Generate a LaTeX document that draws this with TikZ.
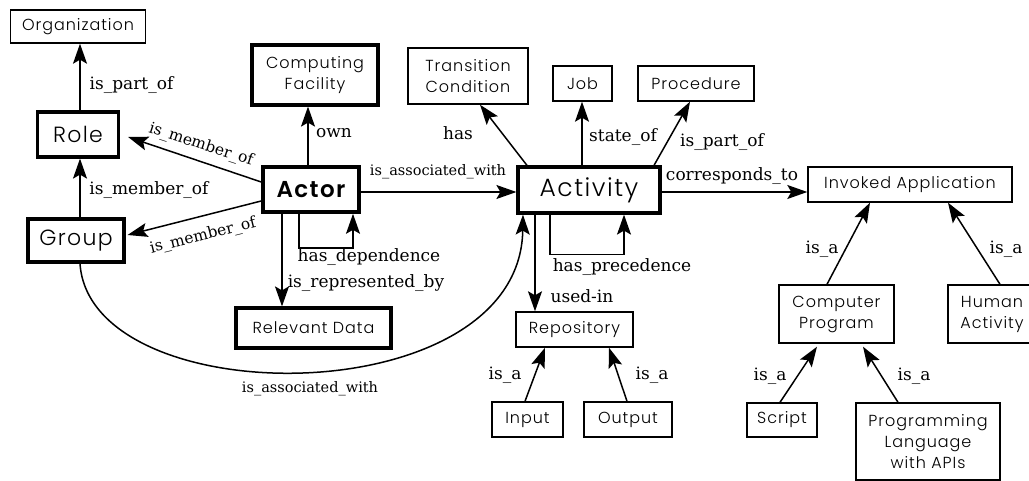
\documentclass[tikz,border=0pt]{standalone}
\usepackage{fontspec}
\setmainfont{DejaVu Serif}
\newfontfamily\boxfont[LetterSpace=6, UprightFont={* Light}, BoldFont={* SemiBold}]{Poppins}
\usetikzlibrary{arrows.meta,calc}

\tikzset{
  ent/.style={draw, line width=1.4pt, inner sep=0pt, align=center,
    font=\boxfont\fontsize{16}{21}\selectfont},
  kent/.style={ent, line width=3.2pt},
  arr/.style={line width=1.5pt, -{Stealth[length=20pt,width=14pt,inset=4pt]}},
  lab/.style={font=\fontsize{17}{20}\selectfont, inner sep=0pt},
  mlab/.style={font=\fontsize{15.5}{18}\selectfont, inner sep=0pt},
  slab/.style={font=\fontsize{14.5}{17}\selectfont, inner sep=0pt},
}

\begin{document}
\begin{tikzpicture}[x=1pt,y=-1pt]
\useasboundingbox (0,0) rectangle (1029,481);

% entities
\node[ent, minimum width=135, minimum height=33] (org) at (78,26.5) {Organization};
\node[kent, font=\boxfont\fontsize{22}{26}\selectfont, minimum width=81, minimum height=45] (role) at (78,134.5) {Role};
\node[kent, font=\boxfont\fontsize{22}{26}\selectfont, minimum width=96, minimum height=43] (group) at (76,240.5) {Group};
\node[kent, minimum width=126, minimum height=60] (cf) at (315,75) {Computing\\Facility};
\node[kent, line width=3.6pt, font=\boxfont\bfseries\fontsize{23}{26}\selectfont, minimum width=96, minimum height=45] (actor) at (311,189.5) {Actor};
\node[ent, minimum width=120, minimum height=56] (tc) at (468,76) {Transition\\Condition};
\node[ent, minimum width=59, minimum height=35] (job) at (582.5,83.5) {Job};
\node[ent, minimum width=116, minimum height=35] (proc) at (696,83.5) {Procedure};
\node[kent, font=\boxfont\fontsize{25}{28}\selectfont, minimum width=142, minimum height=46] (act) at (589,190) {Activity};
\node[ent, minimum width=204, minimum height=35] (inv) at (910,184.5) {Invoked Application};
\node[kent, minimum width=155, minimum height=40] (rd) at (313.5,328) {Relevant Data};
\node[ent, minimum width=117, minimum height=35] (rep) at (574.5,329.5) {Repository};
\node[ent, minimum width=71, minimum height=35] (inp) at (527.5,419.5) {Input};
\node[ent, minimum width=88, minimum height=35] (outp) at (628,419.5) {Output};
\node[ent, minimum width=115, minimum height=58] (cp) at (836.5,314) {Computer\\Program};
\node[ent, minimum width=88, minimum height=58] (ha) at (992,314) {Human\\Activity};
\node[ent, minimum width=70, minimum height=34] (scr) at (782,420) {Script};
\node[ent, minimum width=144, minimum height=77] (pl) at (928,441.5) {Programming\\Language\\with APIs};

% relations
\draw[arr] ($(role.north)+(2,0)$) -- ($(org.south)+(2,0)$);
\draw[arr] ($(group.north)+(4,0)$) -- ($(role.south)+(2,0)$);
\draw[arr] ($(actor.west)+(0,-7.5)$) -- ($(role.east)+(8,2.5)$);
\draw[arr] ($(actor.west)+(0,11.5)$) -- ($(group.east)+(2,-5.5)$);
\draw[arr] ($(actor.north)+(-3,0)$) -- ($(cf.south)+(-7,0)$);
\draw[arr] ($(actor.east)+(0,2.5)$) -- ($(act.west)+(0,2)$);
\draw[arr] ($(actor.south)+(-12,0)$) -- ++(0,34) -| ($(actor.south)+(42,0)$);
\draw[arr] ($(actor.south)+(-29,0)$) -- ($(rd.north)+(-31.5,0)$);
\draw[arr] ($(group.south)+(4,0)$) .. controls (90,415) and (520,415) .. ($(act.south)+(-66,0)$);

\draw[arr] ($(act.north)+(-62,0)$) -- ($(tc.south)+(12,0)$);
\draw[arr] ($(act.north)+(-7,0)$) -- ($(job.south)+(-0.5,0)$);
\draw[arr] ($(act.north)+(65,0)$) -- ($(proc.south)+(-6,0)$);
\draw[arr] ($(act.east)+(0,2)$) -- ($(inv.west)+(0,7.5)$);
\draw[arr] ($(act.south)+(-39,0)$) -- ++(0,40) -| ($(act.south)+(35,0)$);
\draw[arr] ($(act.south)+(-54,0)$) -- ($(rep.north)+(-39.5,0)$);
\draw[arr] ($(inp.north)+(-2.5,0)$) -- ($(rep.south)+(-29.5,0)$);
\draw[arr] ($(outp.north)+(-1,0)$) -- ($(rep.south)+(34.5,0)$);
\draw[arr] ($(cp.north)+(-9.5,0)$) -- ($(inv.south)+(-40,0)$);
\draw[arr] ($(ha.north)+(8,0)$) -- ($(inv.south)+(38,0)$);
\draw[arr] ($(scr.north)+(-2,0)$) -- ($(cp.south)+(-19.5,3)$);
\draw[arr] ($(pl.north)+(-30,0)$) -- ($(cp.south)+(26.5,3)$);

% relation names
\node[lab] (l1) at (131.5,85) {is\_part\_of};
\node[lab] (l2) at (149,190) {is\_member\_of};
\node[mlab, rotate=-18] (l3) at (201,145) {is\_member\_of};
\node[mlab, rotate=14] (l4) at (203,236) {is\_member\_of};
\node[lab] (l5) at (334,133) {own};
\node[slab] (l6) at (438,172) {is\_associated\_with};
\node[lab] (l7) at (369,257) {has\_dependence};
\node[lab] (l8) at (366,283) {is\_represented\_by};
\node[slab] (l9) at (310,389) {is\_associated\_with};
\node[lab] (l10) at (458,133) {has};
\node[lab] (l11) at (623,137) {state\_of};
\node[lab] (l12) at (722,142) {is\_part\_of};
\node[lab] (l13) at (732,176) {corresponds\_to};
\node[lab] (l14) at (622,267) {has\_precedence};
\node[lab] (l15) at (582,296) {used-in};
\node[lab] (l16) at (505,375) {is\_a};
\node[lab] (l17) at (652,375) {is\_a};
\node[lab] (l18) at (822,249) {is\_a};
\node[lab] (l19) at (1006,249) {is\_a};
\node[lab] (l20) at (770,376) {is\_a};
\node[lab] (l21) at (914,376) {is\_a};
\end{tikzpicture}
\end{document}
